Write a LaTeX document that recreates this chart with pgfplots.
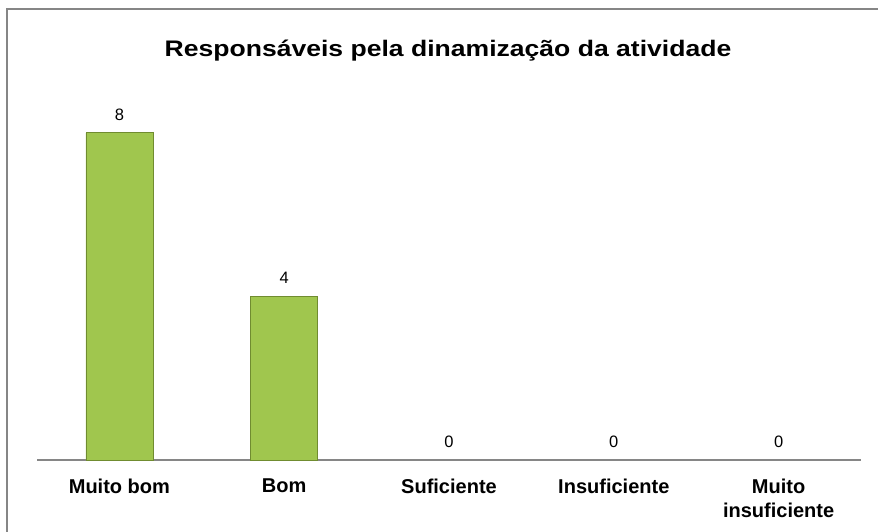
\documentclass[border=0pt]{standalone}
\usepackage{pgfplots}
\pgfplotsset{compat=1.18}
\usepackage{fontspec}
\setmainfont{Liberation Sans}
\definecolor{barfill}{RGB}{160,198,78}
\definecolor{bardark}{RGB}{112,140,48}
\definecolor{framegray}{RGB}{134,134,134}
\begin{document}
\begin{tikzpicture}[x=1pt,y=1pt]
\useasboundingbox (-37,-72) rectangle (841,460);
\draw[framegray, line width=1.6pt] (-30,-100) -- (-30,451) -- (900,451);
\begin{axis}[
  at={(0,0)}, anchor=south west,
  scale only axis,
  width=824pt, height=368pt,
  xmin=-0.5, xmax=4.5,
  ymin=0, ymax=9,
  axis y line=none,
  axis x line*=bottom,
  x axis line style={framegray, line width=1.4pt},
  xtick={0,1,2,3,4},
  xticklabels={Muito bom,Bom,Suficiente,Insuficiente,{Muito\\insuficiente}},
  xticklabel style={font=\fontsize{20}{24}\selectfont\bfseries, align=center, yshift=-15pt},
  major tick length=0pt,
  /pgf/number format/assume math mode=true,
  ybar, bar width=67pt, bar shift=0pt,
  nodes near coords,
  every node near coord/.append style={font=\fontsize{16.5}{19}\selectfont, yshift=9pt},
  clip=false,
]
\addplot[draw=bardark, line width=0.8pt, fill=barfill]
  coordinates {(0,8) (1,4)};
\addplot[draw=none, fill=none]
  coordinates {(2,0) (3,0) (4,0)};
\end{axis}
\node[font=\fontsize{22.5}{26}\selectfont\bfseries, xscale=1.18] at (411,409) {Responsáveis pela dinamização da atividade};
\end{tikzpicture}
\end{document}
